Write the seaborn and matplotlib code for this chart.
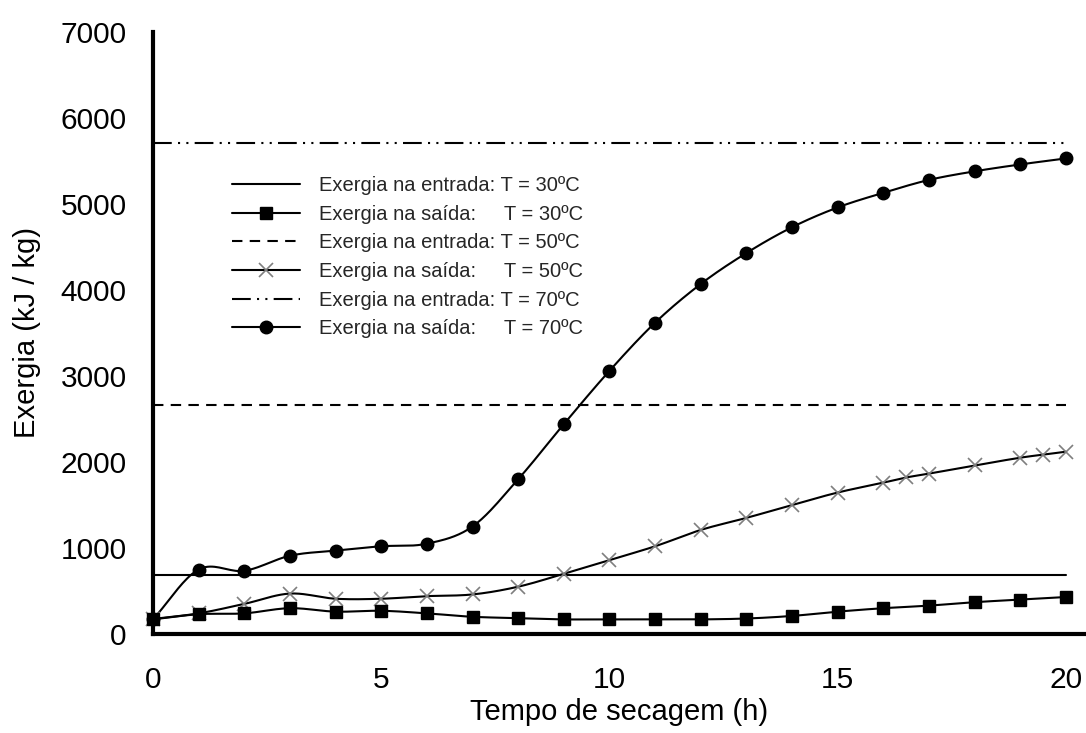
import numpy as np
import pandas as pd
import matplotlib
matplotlib.use("Agg")
import matplotlib.pyplot as plt
from matplotlib.lines import Line2D
import seaborn as sns

# ---- data ----
hours = [0, 1, 2, 3, 4, 5, 6, 7, 8, 9, 10, 11, 12, 13, 14, 15, 16, 17, 18, 19, 20]
out_30 = [170, 230, 240, 300, 260, 270, 240, 200, 185, 170, 170, 170, 170, 180, 210, 260, 300, 330, 370, 400, 430]
hours_50 = [0, 1, 2, 3, 4, 5, 6, 7, 8, 9, 10, 11, 12, 13, 14, 15, 16, 16.5, 17, 18, 19, 19.5, 20]
out_50 = [175, 240, 350, 470, 410, 410, 440, 460, 550, 700, 860, 1020, 1210, 1350, 1500, 1645, 1760, 1820, 1865, 1960, 2050, 2085, 2120]
out_70 = [170, 750, 735, 910, 970, 1020, 1050, 1250, 1800, 2440, 3060, 3620, 4070, 4430, 4730, 4960, 5130, 5280, 5380, 5460, 5530]
in_30, in_50, in_70 = 690, 2660, 5710
line_x = [0, 20]

labels = ["Exergia na entrada: T = 30ºC",
          "Exergia na saída:     T = 30ºC",
          "Exergia na entrada: T = 50ºC",
          "Exergia na saída:     T = 50ºC",
          "Exergia na entrada: T = 70ºC",
          "Exergia na saída:     T = 70ºC"]
xticks = [0, 5, 10, 15, 20]
yticks = [0, 1000, 2000, 3000, 4000, 5000, 6000, 7000]


def smooth(x, y, n=20):
    """Catmull-Rom smoothing used only to render the connecting line (like Excel smoothed lines)."""
    x = np.asarray(x, float); y = np.asarray(y, float)
    px = np.concatenate([[2 * x[0] - x[1]], x, [2 * x[-1] - x[-2]]])
    py = np.concatenate([[2 * y[0] - y[1]], y, [2 * y[-1] - y[-2]]])
    xs, ys = [], []
    t = np.linspace(0, 1, n, endpoint=False)
    for i in range(1, len(px) - 2):
        for arr, out in ((px, xs), (py, ys)):
            a0, a1, a2, a3 = arr[i-1], arr[i], arr[i+1], arr[i+2]
            out.append(0.5 * ((2 * a1) + (-a0 + a2) * t + (2 * a0 - 5 * a1 + 4 * a2 - a3) * t**2
                              + (-a0 + 3 * a1 - 3 * a2 + a3) * t**3))
    return np.concatenate(xs + [[x[-1]]]), np.concatenate(ys + [[y[-1]]])


sns.set_theme(style="white")
plt.rcParams['font.family'] = ['Liberation Sans', 'DejaVu Sans']

fig = plt.figure(figsize=(10.86, 7.33), dpi=100)
ax = fig.add_axes([153 / 1086, 1 - 634 / 733, 1 - 153 / 1086, (634 - 32) / 733])

lw = 1.5
ls50 = (0, (5, 3.5))
ls70 = (0, (9, 3, 1, 3, 1, 3))

# horizontal inlet lines
for val, ls in [(in_30, '-'), (in_50, ls50), (in_70, ls70)]:
    sns.lineplot(x=line_x, y=[val, val], ax=ax, color='black', lw=lw, linestyle=ls)

# smoothed outlet curves
for xx, yy in [(hours, out_30), (hours_50, out_50), (hours, out_70)]:
    sx, sy = smooth(xx, yy)
    sns.lineplot(x=sx, y=sy, ax=ax, color='black', lw=lw, sort=False, estimator=None)

ax.plot(hours_50, out_50, linestyle='none', marker='x', ms=10, mew=1.2, color='#7f7f7f', clip_on=False, zorder=5)
ax.plot(hours, out_30, linestyle='none', marker='s', ms=9, color='black', clip_on=False, zorder=6)
ax.plot(hours, out_70, linestyle='none', marker='o', ms=9, color='black', clip_on=False, zorder=6)

ax.set_xlim(0, 20.44)
ax.set_ylim(0, 7000)
ax.set_xticks(xticks)
ax.set_yticks(yticks)
ax.tick_params(axis='both', labelsize=21.5, length=6, width=3, direction='out', color='black', labelcolor='black')
ax.tick_params(axis='x', pad=17)
ax.tick_params(axis='y', pad=13)
ax.set_xlabel("Tempo de secagem (h)", fontsize=21, labelpad=3, color='black')
ax.set_ylabel("Exergia (kJ / kg)", fontsize=21, labelpad=14, color='black')
for s in ['top', 'right']:
    ax.spines[s].set_visible(False)
for s in ['left', 'bottom']:
    ax.spines[s].set_color('black')
    ax.spines[s].set_linewidth(3)

handles = [
    Line2D([], [], color='black', lw=lw),
    Line2D([], [], color='black', lw=lw, marker='s', ms=9),
    Line2D([], [], color='black', lw=lw, linestyle=ls50),
    Line2D([], [], color='black', lw=lw, marker='x', ms=10, mec='#7f7f7f', mew=1.2),
    Line2D([], [], color='black', lw=lw, linestyle=ls70),
    Line2D([], [], color='black', lw=lw, marker='o', ms=9),
]
ax.legend(handles, labels, loc='upper left', bbox_to_anchor=(232 / 1086, 1 - 176 / 733),
          bbox_transform=fig.transFigure, frameon=False, fontsize=14.5, handlelength=3.4,
          handletextpad=0.9, labelspacing=0.48, numpoints=1, borderaxespad=0, borderpad=0)

fig.savefig("out.png", dpi=100)
